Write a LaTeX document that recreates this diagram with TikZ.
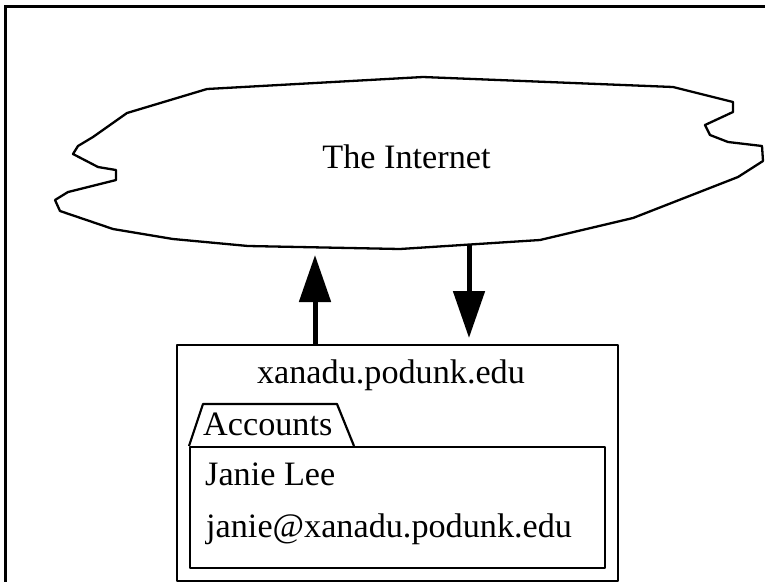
\documentclass[tikz,border=0pt]{standalone}
\usepackage{fontspec}
\setmainfont{Liberation Serif}
\usetikzlibrary{arrows.meta}
\begin{document}
\begin{tikzpicture}[x=1pt,y=-1pt,
  lbl/.style={inner sep=0pt, font=\fontsize{34.2}{40}\selectfont},
  outline/.style={draw=black, line width=2.2pt, line join=round},
  boxnode/.style={outline, rectangle, inner sep=0pt, anchor=north west},
  flow/.style={line width=5pt, -{Triangle[length=47pt,width=31pt]}}]
\useasboundingbox (0,0) rectangle (765,581);
\fill[white] (0,0) rectangle (765,581);
% page frame (runs past the right and bottom edges)
\draw[line width=3pt] (5,6) rectangle (780,600);

% the cloud
\draw[outline, line width=2.3pt]
  (207,89) -- (127,113) -- (93,137) -- (78,146) -- (73,154) -- (98,167)
  -- (116,170) -- (116,180) -- (68,192) -- (55,200) -- (60,211)
  -- (113,229) -- (173,239) -- (248,246) -- (400,249) -- (540,240)
  -- (633,218) -- (738,177) -- (763,161) -- (762,146) -- (728,142)
  -- (710,135) -- (705,125) -- (733,112) -- (733,102) -- (673,87)
  -- (423,77) -- cycle;
\node[lbl, anchor=base] (internet) at (406.5,168) {The Internet};

% host machine
\node[boxnode, minimum width=441pt, minimum height=236pt] (host) at (176,344) {};
\node[lbl, anchor=base] (hostname) at (391,383) {xanadu.podunk.edu};

% accounts folder
\node[boxnode, minimum width=415pt, minimum height=121pt] (accounts) at (189,446) {};
\draw[outline] (accounts.north west) -- (203,404) -- (337,404) -- (354,446);
\node[lbl, anchor=base west] (tab) at (203,435) {Accounts};
\node[lbl, anchor=base west] (user) at (205,485) {Janie Lee};
\node[lbl, anchor=base west] (mail) at (206,537) {janie@xanadu.podunk.edu};

% traffic to and from the network
\coordinate (uptip) at (315,255);
\coordinate (downtail) at (469,244);
\draw[flow] (uptip |- host.north) -- (uptip);
\draw[flow, shorten >=6pt] (downtail) -- (downtail |- host.north);
\end{tikzpicture}
\end{document}
